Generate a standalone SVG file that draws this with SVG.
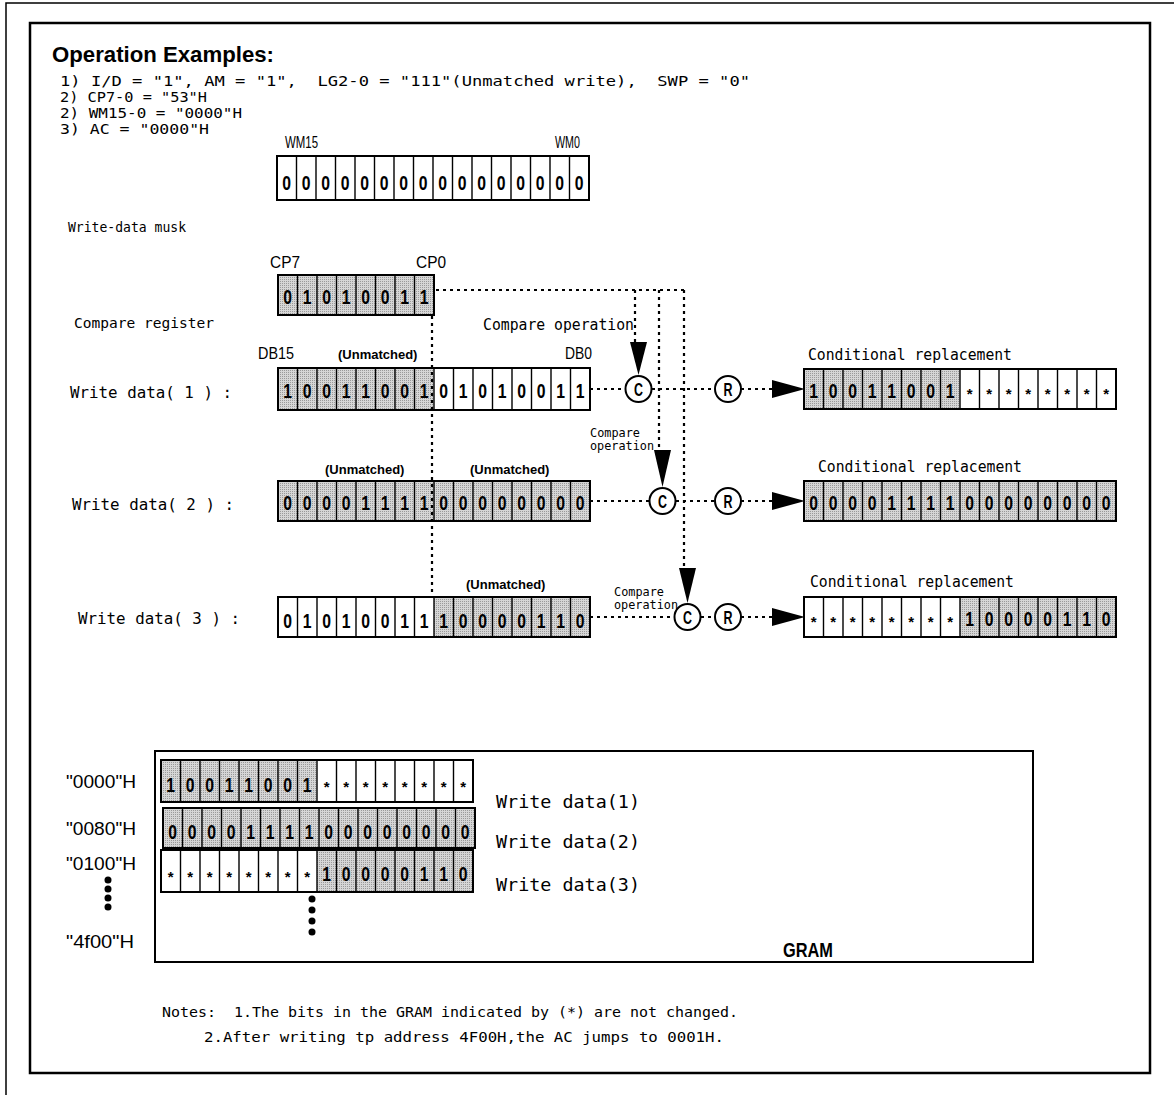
<svg xmlns="http://www.w3.org/2000/svg" width="1174" height="1095" viewBox="0 0 1174 1095">
<style>
.t{font-family:"Liberation Sans",Arial,sans-serif;fill:#000}
.m{font-family:"DejaVu Sans Mono","Liberation Mono",monospace;fill:#000}
.b{font-weight:bold}
.box{fill:none;stroke:#000;stroke-width:2}
.dv{fill:none;stroke:#000;stroke-width:1.4}
.sh{fill:url(#hatch)}
.dig{font-family:"Liberation Sans",Arial,sans-serif;font-weight:bold;font-size:21px;text-anchor:middle;fill:#000}
.ast{font-family:"Liberation Sans",Arial,sans-serif;font-weight:bold;font-size:15px;text-anchor:middle;fill:#000}
.dot{fill:none;stroke:#000;stroke-width:2.2;stroke-dasharray:3 4}
.circ{fill:#fff;stroke:#000;stroke-width:2}
.cl{font-family:"Liberation Sans",Arial,sans-serif;font-weight:bold;font-size:18px;fill:#000}
.ah{fill:#000}
</style>
<defs>
<pattern id="hatch" width="2" height="2" patternUnits="userSpaceOnUse">
<rect width="2" height="2" fill="#d6d6d6"/>
<rect width="1" height="1" fill="#9a9a9a"/>
</pattern>
<path id="v40" d="M19.5 0v40M39 0v40M58.5 0v40M78 0v40M97.5 0v40M117 0v40M136.5 0v40M156 0v40M175.5 0v40M195 0v40M214.5 0v40M234 0v40M253.5 0v40M273 0v40M292.5 0v40"/>
<path id="v42" d="M19.5 0v42M39 0v42M58.5 0v42M78 0v42M97.5 0v42M117 0v42M136.5 0v42M156 0v42M175.5 0v42M195 0v42M214.5 0v42M234 0v42M253.5 0v42M273 0v42M292.5 0v42"/>
<path id="v44" d="M19.5 0v44M39 0v44M58.5 0v44M78 0v44M97.5 0v44M117 0v44M136.5 0v44M156 0v44M175.5 0v44M195 0v44M214.5 0v44M234 0v44M253.5 0v44M273 0v44M292.5 0v44"/>
<path id="v8" d="M19.5 0v40M39 0v40M58.5 0v40M78 0v40M97.5 0v40M117 0v40M136.5 0v40"/>
</defs>
<rect width="1174" height="1095" fill="#fff"/>
<path d="M6 1095V3H1174" fill="none" stroke="#000" stroke-width="1.5"/>
<rect x="30" y="23" width="1120" height="1050" fill="none" stroke="#000" stroke-width="2.5"/>

<g id="header">
<text class="t b" x="52" y="62" font-size="22" textLength="222" lengthAdjust="spacingAndGlyphs">Operation Examples:</text>
<text class="m" x="60" y="86" font-size="13.5" xml:space="preserve" textLength="690" lengthAdjust="spacingAndGlyphs">1) I/D = "1", AM = "1",  LG2-0 = "111"(Unmatched write),  SWP = "0"</text>
<text class="m" x="60" y="102" font-size="13.5" xml:space="preserve" textLength="147" lengthAdjust="spacingAndGlyphs">2) CP7-0 = "53"H</text>
<text class="m" x="60" y="118" font-size="13.5" xml:space="preserve" textLength="182" lengthAdjust="spacingAndGlyphs">2) WM15-0 = "0000"H</text>
<text class="m" x="60" y="134" font-size="13.5" xml:space="preserve" textLength="149" lengthAdjust="spacingAndGlyphs">3) AC = "0000"H</text>
</g>

<g id="wm-register">
<text class="t" x="285" y="148" font-size="16" textLength="33" lengthAdjust="spacingAndGlyphs">WM15</text>
<text class="t" x="555" y="148" font-size="16" textLength="25" lengthAdjust="spacingAndGlyphs">WM0</text>
<g transform="translate(277,156)">
<use href="#v44" class="dv"/>
<rect class="box" width="312" height="44"/>
<g transform="scale(0.75,1)"><text class="dig" font-weight="normal" y="34" x="13 39 65 91 117 143 169 195 221 247 273 299 325 351 377 403">0000000000000000</text></g>
</g>
<text class="m" x="68" y="232" font-size="14" textLength="118" lengthAdjust="spacingAndGlyphs">Write-data musk</text>
</g>

<g id="compare-register">
<text class="t" x="270" y="268" font-size="16" textLength="30" lengthAdjust="spacingAndGlyphs">CP7</text>
<text class="t" x="416" y="268" font-size="16" textLength="30" lengthAdjust="spacingAndGlyphs">CP0</text>
<g transform="translate(278,275)">
<rect class="sh" width="156" height="40"/>
<use href="#v8" class="dv"/>
<rect class="box" width="156" height="40"/>
<g transform="scale(0.75,1)"><text class="dig" y="29" x="13 39 65 91 117 143 169 195">01010011</text></g>
</g>
<text class="m" x="74" y="328" font-size="14" textLength="140" lengthAdjust="spacingAndGlyphs">Compare register</text>
</g>

<g id="write-data-1">
<text class="m" x="70" y="398" font-size="15" xml:space="preserve" textLength="162" lengthAdjust="spacingAndGlyphs">Write data( 1 ) :</text>
<text class="t" x="258" y="359" font-size="16" textLength="36" lengthAdjust="spacingAndGlyphs">DB15</text>
<text class="t b" x="338" y="359" font-size="13">(Unmatched)</text>
<text class="t" x="565" y="359" font-size="16" textLength="27" lengthAdjust="spacingAndGlyphs">DB0</text>
<g transform="translate(278,368)">
<rect class="sh" width="156" height="42"/>
<use href="#v42" class="dv"/>
<rect class="box" width="312" height="42"/>
<g transform="scale(0.75,1)"><text class="dig" y="30" x="13 39 65 91 117 143 169 195 221 247 273 299 325 351 377 403">1001100101010011</text></g>
</g>
</g>

<g id="write-data-2">
<text class="m" x="72" y="510" font-size="15" xml:space="preserve" textLength="162" lengthAdjust="spacingAndGlyphs">Write data( 2 ) :</text>
<text class="t b" x="325" y="474" font-size="13">(Unmatched)</text>
<text class="t b" x="470" y="474" font-size="13">(Unmatched)</text>
<g transform="translate(278,481)">
<rect class="sh" width="312" height="40"/>
<use href="#v40" class="dv"/>
<rect class="box" width="312" height="40"/>
<g transform="scale(0.75,1)"><text class="dig" y="29" x="13 39 65 91 117 143 169 195 221 247 273 299 325 351 377 403">0000111100000000</text></g>
</g>
</g>

<g id="write-data-3">
<text class="m" x="78" y="624" font-size="15" xml:space="preserve" textLength="162" lengthAdjust="spacingAndGlyphs">Write data( 3 ) :</text>
<text class="t b" x="466" y="589" font-size="13">(Unmatched)</text>
<g transform="translate(278,597)">
<rect class="sh" x="156" width="156" height="40"/>
<use href="#v40" class="dv"/>
<rect class="box" width="312" height="40"/>
<g transform="scale(0.75,1)"><text class="dig" y="31" x="13 39 65 91 117 143 169 195 221 247 273 299 325 351 377 403">0101001110000110</text></g>
</g>
</g>

<g id="result-1">
<text class="m" x="808" y="360" font-size="15" textLength="204" lengthAdjust="spacingAndGlyphs">Conditional replacement</text>
<g transform="translate(804,369)">
<rect class="sh" width="156" height="40"/>
<use href="#v40" class="dv"/>
<rect class="box" width="312" height="40"/>
<g transform="scale(0.75,1)"><text class="dig" y="29" x="13 39 65 91 117 143 169 195">10011001</text></g>
<text class="ast" y="30" x="165.75 185.25 204.75 224.25 243.75 263.25 282.75 302.25">********</text>
</g>
</g>

<g id="result-2">
<text class="m" x="818" y="472" font-size="15" textLength="204" lengthAdjust="spacingAndGlyphs">Conditional replacement</text>
<g transform="translate(804,481)">
<rect class="sh" width="312" height="40"/>
<use href="#v40" class="dv"/>
<rect class="box" width="312" height="40"/>
<g transform="scale(0.75,1)"><text class="dig" y="29" x="13 39 65 91 117 143 169 195 221 247 273 299 325 351 377 403">0000111100000000</text></g>
</g>
</g>

<g id="result-3">
<text class="m" x="810" y="587" font-size="15" textLength="204" lengthAdjust="spacingAndGlyphs">Conditional replacement</text>
<g transform="translate(804,597)">
<rect class="sh" x="156" width="156" height="40"/>
<use href="#v40" class="dv"/>
<rect class="box" width="312" height="40"/>
<text class="ast" y="30" x="9.75 29.25 48.75 68.25 87.75 107.25 126.75 146.25">********</text>
<g transform="scale(0.75,1)"><text class="dig" y="29" x="221 247 273 299 325 351 377 403">10000110</text></g>
</g>
</g>

<g id="connectors">
<path class="dot" d="M436 290H684M635 290V342M659 290V450M684 290V568M432 316V597"/>
<path class="dot" d="M590 389H625M652 389H715M741 389H772"/>
<path class="dot" d="M590 501H650M676 501H715M741 501H772"/>
<path class="dot" d="M590 617H675M701 617H715M741 617H772"/>
<polygon class="ah" points="630,342 647,342 638.5,375"/>
<polygon class="ah" points="654,450 671,450 662.5,487"/>
<polygon class="ah" points="679,568 696,568 687.5,603"/>
<polygon class="ah" points="772,380 805,389 772,398"/>
<polygon class="ah" points="772,492 805,501 772,510"/>
<polygon class="ah" points="772,608 805,617 772,626"/>
<text class="m" x="483" y="330" font-size="15" textLength="151" lengthAdjust="spacingAndGlyphs">Compare operation</text>
<text class="m" x="590" y="437" font-size="12" textLength="50" lengthAdjust="spacingAndGlyphs">Compare</text>
<text class="m" x="590" y="450" font-size="12" textLength="64" lengthAdjust="spacingAndGlyphs">operation</text>
<text class="m" x="614" y="596" font-size="12" textLength="50" lengthAdjust="spacingAndGlyphs">Compare</text>
<text class="m" x="614" y="609" font-size="12" textLength="64" lengthAdjust="spacingAndGlyphs">operation</text>
</g>

<g id="c1"><circle class="circ" cx="638.5" cy="389" r="13"/><text class="cl" x="634" y="396" textLength="9" lengthAdjust="spacingAndGlyphs">C</text></g>
<g id="r1"><circle class="circ" cx="728" cy="389" r="13"/><text class="cl" x="723.5" y="396" textLength="9" lengthAdjust="spacingAndGlyphs">R</text></g>
<g id="c2"><circle class="circ" cx="662.5" cy="501" r="13"/><text class="cl" x="658" y="508" textLength="9" lengthAdjust="spacingAndGlyphs">C</text></g>
<g id="r2"><circle class="circ" cx="728" cy="501" r="13"/><text class="cl" x="723.5" y="508" textLength="9" lengthAdjust="spacingAndGlyphs">R</text></g>
<g id="c3"><circle class="circ" cx="687.5" cy="617" r="13"/><text class="cl" x="683" y="624" textLength="9" lengthAdjust="spacingAndGlyphs">C</text></g>
<g id="r3"><circle class="circ" cx="728" cy="617" r="13"/><text class="cl" x="723.5" y="624" textLength="9" lengthAdjust="spacingAndGlyphs">R</text></g>

<g id="gram">
<rect x="155" y="751" width="878" height="211" fill="none" stroke="#000" stroke-width="2"/>
<text class="t b" x="783" y="957" font-size="20" textLength="50" lengthAdjust="spacingAndGlyphs">GRAM</text>
<text class="t" x="66" y="788" font-size="19" textLength="70" lengthAdjust="spacingAndGlyphs">"0000"H</text>
<text class="t" x="66" y="835" font-size="19" textLength="70" lengthAdjust="spacingAndGlyphs">"0080"H</text>
<text class="t" x="66" y="870" font-size="19" textLength="70" lengthAdjust="spacingAndGlyphs">"0100"H</text>
<text class="t" x="66" y="948" font-size="19" textLength="68" lengthAdjust="spacingAndGlyphs">"4f00"H</text>
<circle cx="108" cy="880" r="3.5"/><circle cx="108" cy="889" r="3.5"/><circle cx="108" cy="898" r="3.5"/><circle cx="108" cy="907" r="3.5"/>
<circle cx="312" cy="899" r="3.5"/><circle cx="312" cy="910" r="3.5"/><circle cx="312" cy="921" r="3.5"/><circle cx="312" cy="932" r="3.5"/>
<g transform="translate(161,760)">
<rect class="sh" width="156" height="42"/>
<use href="#v42" class="dv"/>
<rect class="box" width="312" height="42"/>
<g transform="scale(0.75,1)"><text class="dig" y="32" x="13 39 65 91 117 143 169 195">10011001</text></g>
<text class="ast" y="32" x="165.75 185.25 204.75 224.25 243.75 263.25 282.75 302.25">********</text>
</g>
<g transform="translate(163,808)">
<rect class="sh" width="312" height="40"/>
<use href="#v40" class="dv"/>
<rect class="box" width="312" height="40"/>
<g transform="scale(0.75,1)"><text class="dig" y="31" x="13 39 65 91 117 143 169 195 221 247 273 299 325 351 377 403">0000111100000000</text></g>
</g>
<g transform="translate(161,850)">
<rect class="sh" x="156" width="156" height="42"/>
<use href="#v42" class="dv"/>
<rect class="box" width="312" height="42"/>
<text class="ast" y="32" x="9.75 29.25 48.75 68.25 87.75 107.25 126.75 146.25">********</text>
<g transform="scale(0.75,1)"><text class="dig" y="31" x="221 247 273 299 325 351 377 403">10000110</text></g>
</g>
<text class="m" x="496" y="808" font-size="17" textLength="144" lengthAdjust="spacingAndGlyphs">Write data(1)</text>
<text class="m" x="496" y="848" font-size="17" textLength="144" lengthAdjust="spacingAndGlyphs">Write data(2)</text>
<text class="m" x="496" y="891" font-size="17" textLength="144" lengthAdjust="spacingAndGlyphs">Write data(3)</text>
</g>

<g id="notes">
<text class="m" x="162" y="1017" font-size="14" xml:space="preserve" textLength="576" lengthAdjust="spacingAndGlyphs">Notes:  1.The bits in the GRAM indicated by (*) are not changed.</text>
<text class="m" x="204" y="1042" font-size="14" textLength="520" lengthAdjust="spacingAndGlyphs">2.After writing tp address 4F00H,the AC jumps to 0001H.</text>
</g>
</svg>
